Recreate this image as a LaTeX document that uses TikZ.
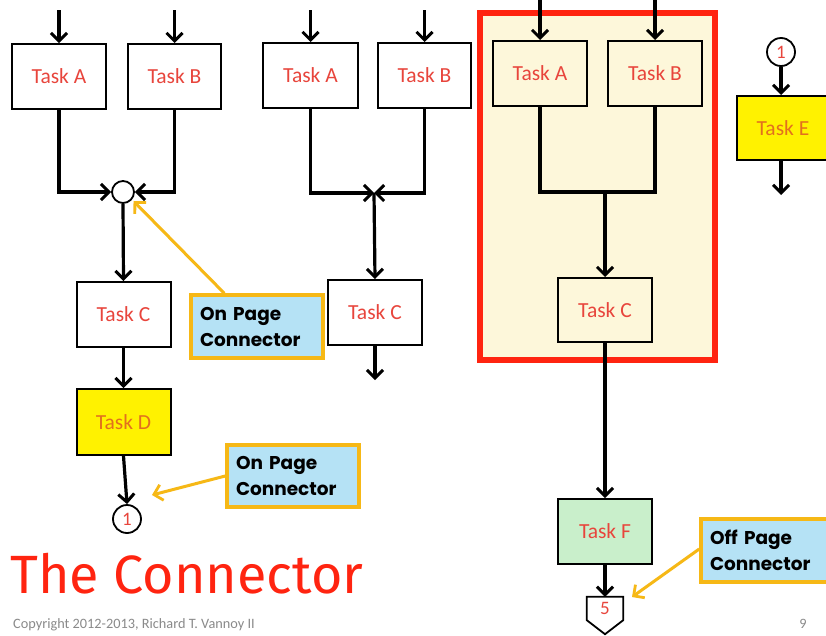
\documentclass[tikz,border=0pt]{standalone}
\usepackage{fontspec}
\setmainfont{Carlito}
\newfontfamily\callfont{Poppins}
\newfontfamily\titlefont{Fira Sans}
\usetikzlibrary{arrows.meta,calc}
\definecolor{taskred}{HTML}{E8453C}
\definecolor{taskorange}{HTML}{E2701E}
\definecolor{yel}{HTML}{FFF200}
\definecolor{cream}{HTML}{FDF7DA}
\definecolor{frame}{HTML}{FF2410}
\definecolor{callbg}{HTML}{B5E2F5}
\definecolor{callbd}{HTML}{F6B816}
\definecolor{green}{HTML}{C9EFCB}
\definecolor{gr}{HTML}{8A8A8A}
\tikzset{
  task/.style={draw=black, line width=2pt, minimum width=94pt, minimum height=65pt,
    inner sep=0pt, font=\fontsize{21.5}{22}\selectfont, text=taskred},
  conn/.style={circle, draw=black, line width=1.8pt, fill=white, inner sep=0pt,
    font=\fontsize{19}{20}\selectfont, text=taskred},
  arr/.style={line width=3.2pt, -{Straight Barb[length=8pt,width=16pt,line width=3pt]}},
  ln/.style={line width=3.2pt},
  callout/.style={draw=callbd, fill=callbg, line width=3.5pt, minimum height=63pt,
    minimum width=130pt, inner xsep=9pt, align=left, text width=114pt,
    font=\callfont\bfseries\fontsize{18.5}{26}\selectfont},
  yarr/.style={draw=callbd, line width=3pt, -{Straight Barb[length=8pt,width=16pt,line width=2.8pt]}},
}
\begin{document}
\begin{tikzpicture}[x=1pt,y=-1pt]
\useasboundingbox (0,0) rectangle (826,635);
\clip (0,0) rectangle (826,635);
\fill[white] (0,0) rectangle (826,635);

% ---------- left column ----------
\node[task] (A1) at (59,76.5) {Task A};
\node[task, minimum width=93pt] (B1) at (174.5,76.5) {Task B};
\coordinate (tA1) at (59,10);
\coordinate (tB1) at (174.5,10);
\draw[arr] (tA1) -- (A1.north);
\draw[arr] (tB1) -- (B1.north);
\node[conn, minimum size=22pt] (c1) at (123,192) {};
\draw[arr] (A1.south) |- (c1.west);
\draw[arr] (B1.south) |- (c1.east);
\node[task] (C1) at (123.5,314.5) {Task C};
\draw[arr] (c1.south) -- (C1.north);
\node[task, fill=yel, text=taskorange, minimum height=66pt] (D1) at (123.5,422) {Task D};
\draw[arr] (C1.south) -- (D1.north);
\node[conn, minimum size=28pt] (o1) at (127,519) {1};
\draw[arr] (D1.south) -- (o1.north);

\node[callout] (call1) at (257,326.5) {On Page\\Connector};
\draw[yarr, shorten >=2pt] ([xshift=35pt]call1.north west) -- (c1.-40);
\node[callout, minimum height=62pt] (call2) at (293,476) {On Page\\Connector};
\coordinate (p2) at (152,495);
\draw[yarr] (call2.west) -- (p2);

% ---------- middle column ----------
\node[task, minimum width=95pt] (A2) at (310.5,75.5) {Task A};
\node[task, minimum width=93pt] (B2) at (424.5,75.5) {Task B};
\coordinate (tA2) at (310.5,10);
\coordinate (tB2) at (424.5,10);
\draw[arr] (tA2) -- (A2.north);
\draw[arr] (tB2) -- (B2.north);
\coordinate (j2) at (374,193);
\draw[arr] (A2.south) |- (j2);
\draw[arr] (B2.south) |- (j2);
\node[task] (C2) at (375,312.5) {Task C};
\draw[arr] (j2) -- (C2.north);
\coordinate (e2) at (375,380);
\draw[arr] (C2.south) -- (e2);

% ---------- framed group ----------
\node[draw=frame, fill=cream, line width=6pt, minimum width=235pt, minimum height=347pt,
  inner sep=0pt] (grp) at (597.5,186.5) {};
\node[task, fill=cream] (A3) at (540,73.5) {Task A};
\node[task, fill=cream] (B3) at (655,73.5) {Task B};
\coordinate (tA3) at (540,0);
\coordinate (tB3) at (655,0);
\draw[arr] (tA3) -- (A3.north);
\draw[arr] (tB3) -- (B3.north);
\coordinate (j3) at (605,192);
\draw[ln] (A3.south) |- (B3.south |- j3) -- (B3.south);
\node[task, minimum height=64pt, fill=cream] (C3) at (605,310) {Task C};
\draw[arr] (j3) -- (C3.north);
\node[task, fill=green] (F) at (605,531.5) {Task F};
\draw[arr] (C3.south) -- (F.north);
\node[inner sep=0pt, minimum width=36pt, minimum height=23pt,
  font=\fontsize{19}{20}\selectfont, text=taskred] (off) at (605,608.5) {5};
\draw[line width=1.8pt, line join=miter] (off.north west) -- (off.north east) -- (off.south east)
  -- ($(off.south)+(0,14)$) -- (off.south west) -- cycle;
\draw[arr] (F.south) -- (off.north);

\node[callout, minimum height=63pt] (call3) at (767,550.5) {Off Page\\Connector};
\coordinate (p3) at (632,597);
\draw[yarr] ([yshift=1.5pt]call3.west) -- (p3);

% ---------- right ----------
\node[conn, minimum size=28pt] (o2) at (781,52) {1};
\node[task, fill=yel, text=taskorange, minimum width=92pt, minimum height=64pt] (E) at (783,128) {Task E};
\draw[arr] (o2.south) -- (E.north -| o2);
\coordinate (e3) at (781,195);
\draw[arr] (E.south -| o2) -- (e3);

% ---------- title & footer ----------
\node[anchor=base west, inner sep=0pt, text=frame] (title) at (10,593)
  {\resizebox{353pt}{!}{\titlefont The Connector}};
\node[anchor=base west, inner sep=0pt, text=gr, font=\fontsize{14.3}{15}\selectfont] (copy) at (13,628)
  {Copyright 2012-2013, Richard T. Vannoy II};
\node[anchor=base, inner sep=0pt, text=gr, font=\fontsize{14.3}{15}\selectfont] (page) at (803,628) {9};
\end{tikzpicture}
\end{document}
